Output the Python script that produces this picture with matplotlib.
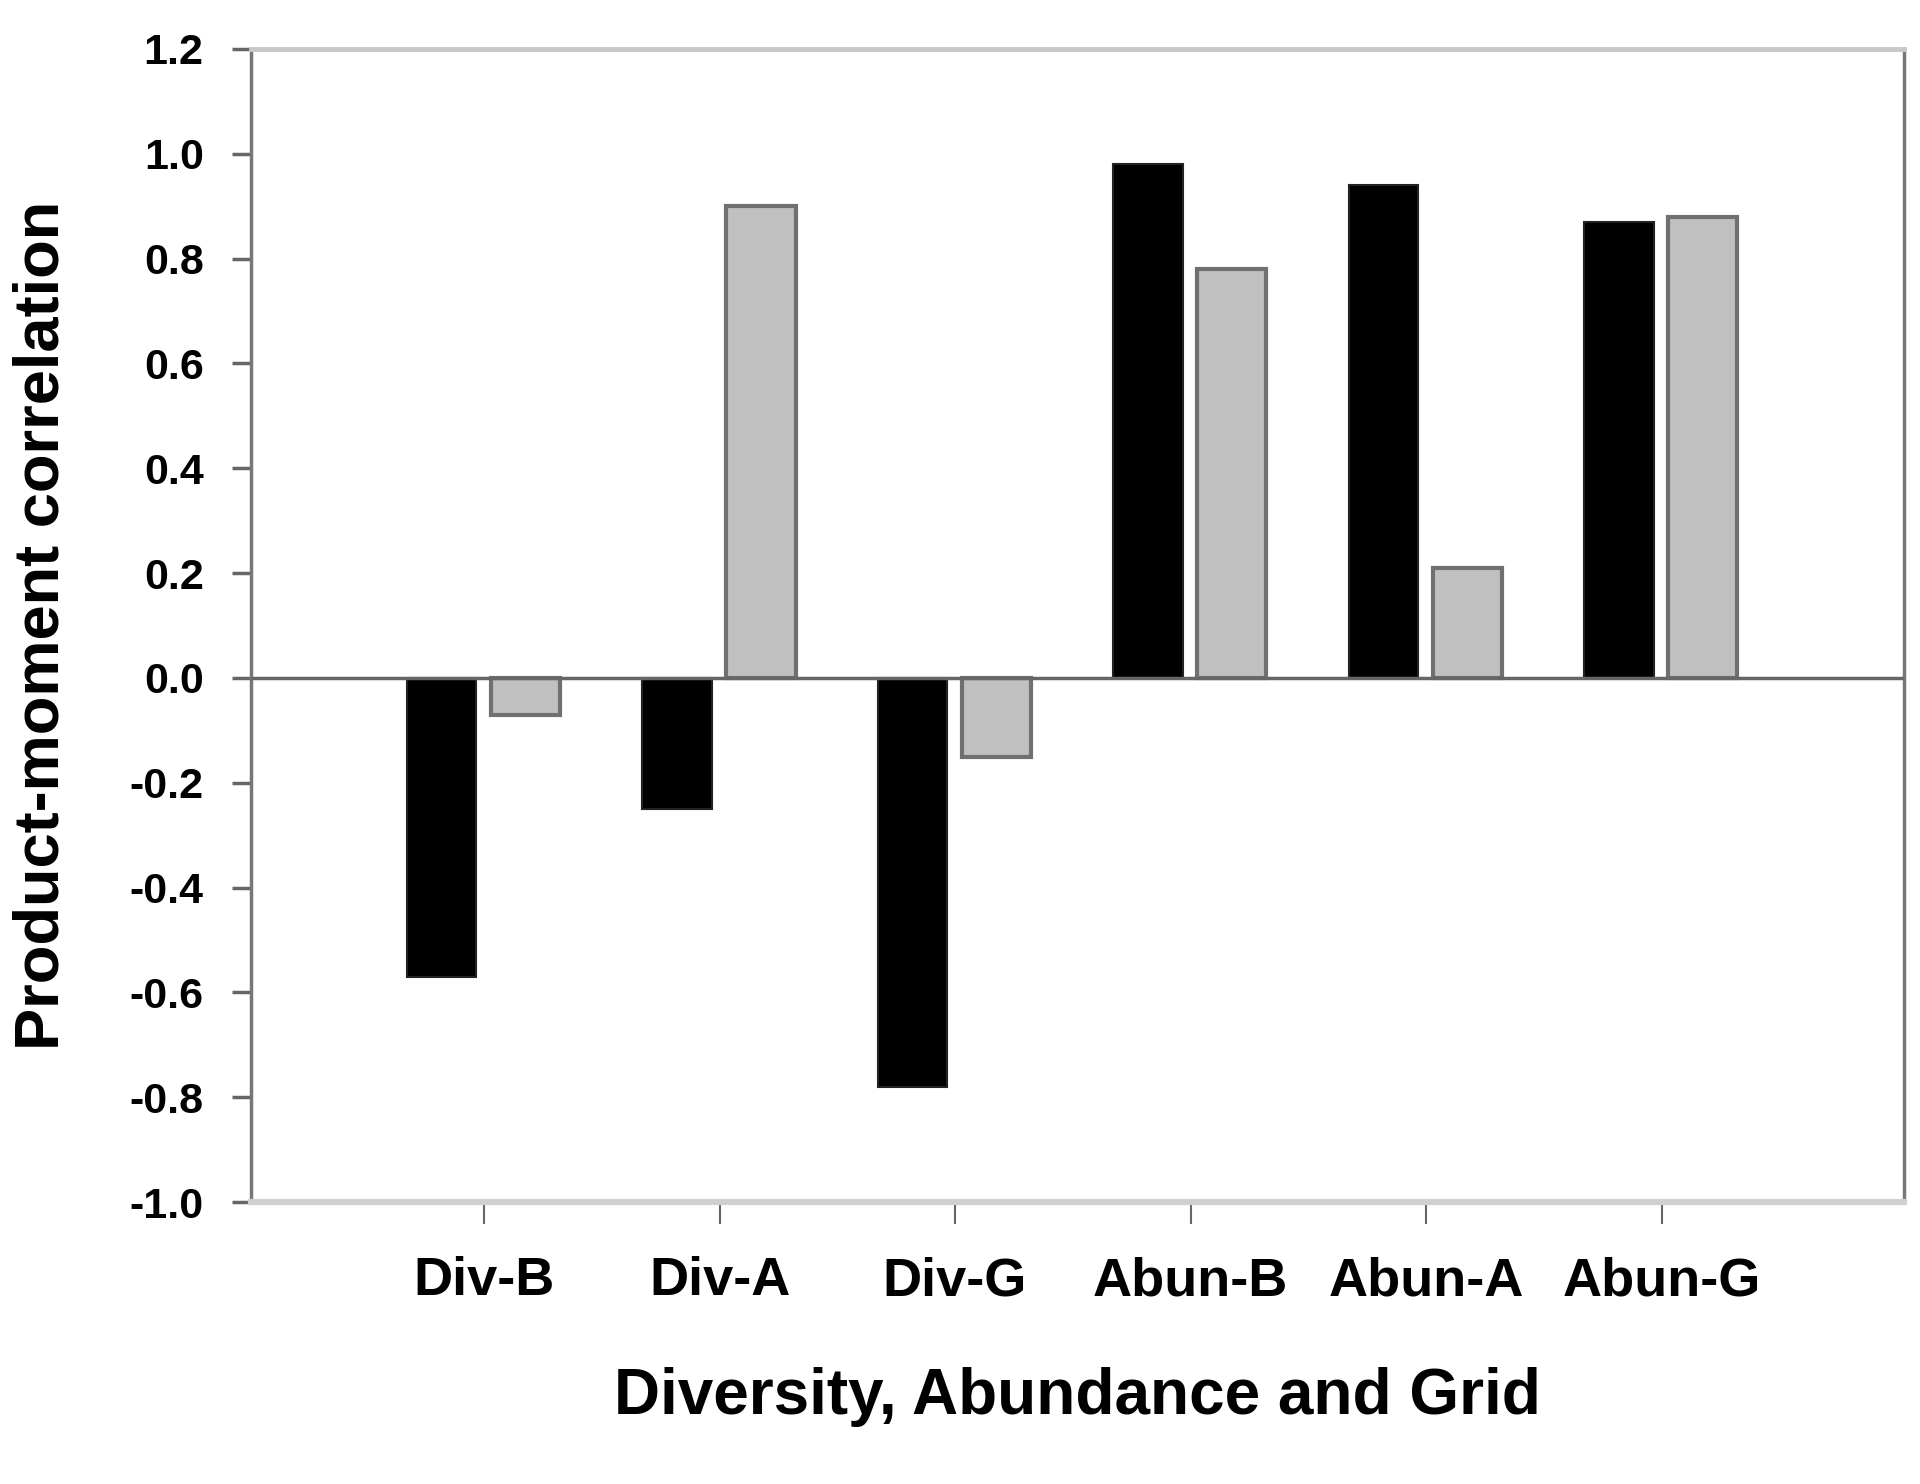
import matplotlib.pyplot as plt
import numpy as np

plt.rcParams['font.family'] = ['Liberation Sans', 'DejaVu Sans']
plt.rcParams['font.weight'] = 'bold'
plt.rcParams['axes.unicode_minus'] = False

# Daten
categories = ['Div-B', 'Div-A', 'Div-G', 'Abun-B', 'Abun-A', 'Abun-G']
black_values = [-0.57, -0.25, -0.78, 0.98, 0.94, 0.87]
gray_values = [-0.07, 0.90, -0.15, 0.78, 0.21, 0.88]
y_ticks = [-1.0, -0.8, -0.6, -0.4, -0.2, 0.0, 0.2, 0.4, 0.6, 0.8, 1.0, 1.2]

fig = plt.figure(figsize=(19.2, 14.84), dpi=100)
ax = fig.add_axes([0.1307, 0.19, 0.861, 0.777])

x = np.arange(len(categories))
width = 0.295
ax.bar(x - 0.18, black_values, width, color='black', edgecolor='#222222', linewidth=1.5, zorder=2)
ax.bar(x + 0.175, gray_values, width, color='#c0c0c0', edgecolor='#707070', linewidth=3, zorder=2)

ax.axhline(0, color='#666666', linewidth=2.5, zorder=3)

ax.set_xlim(-0.99, 6.03)
ax.set_ylim(-1.0, 1.2)
ax.set_yticks(y_ticks)
ax.set_yticklabels([f'{v:.1f}' for v in y_ticks])
ax.set_xticks(x)
ax.set_xticklabels(categories)

ax.tick_params(axis='y', labelsize=31, length=14, width=2.5, color='#666666', pad=20)
ax.tick_params(axis='x', labelsize=39, length=16, width=1.5, color='#666666', pad=23)

for spine in ['left', 'right']:
    ax.spines[spine].set_color('#777777')
    ax.spines[spine].set_linewidth(2.5)
ax.spines['top'].set_color('#c8c8c8')
ax.spines['top'].set_linewidth(3.5)
ax.spines['bottom'].set_color('#d0d0d0')
ax.spines['bottom'].set_linewidth(4.5)

ax.set_xlabel('Diversity, Abundance and Grid', fontsize=46, fontweight='bold', labelpad=44)
ax.set_ylabel('Product-moment correlation', fontsize=45.5, fontweight='bold', labelpad=42)

fig.savefig('out.png', dpi=100, facecolor='white')
